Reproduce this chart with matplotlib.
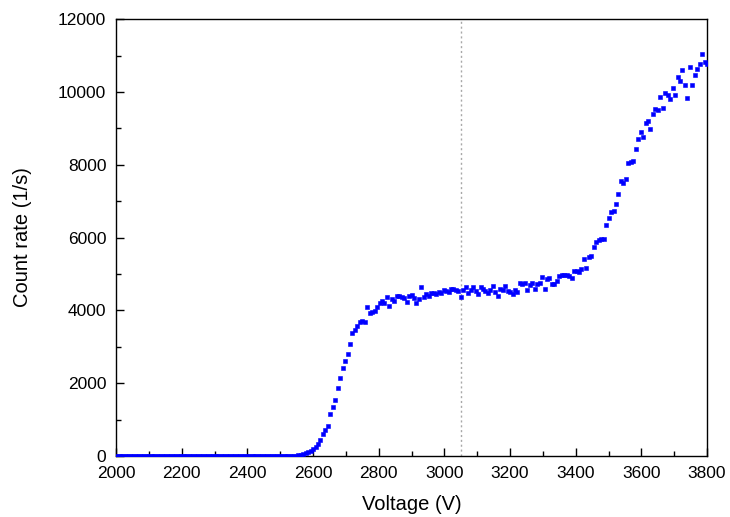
import numpy as np
import matplotlib
import matplotlib.pyplot as plt

matplotlib.use('Agg')

plt.rcParams['font.family'] = ['Liberation Sans', 'DejaVu Sans']

# voltage grid: 7.5 V steps from 2000 to 3800 V
voltage = np.arange(2000, 3800.01, 7.5)

# count rate (1/s), one row per 60 V
counts = [
    0, 0, 0, 0, 0, 0, 0, 0,                          # 2000
    0, 0, 0, 0, 0, 0, 0, 0,                          # 2060
    0, 0, 0, 0, 0, 0, 0, 0,                          # 2120
    0, 0, 0, 0, 0, 0, 0, 0,                          # 2180
    0, 0, 0, 0, 0, 0, 0, 0,                          # 2240
    0, 0, 0, 0, 0, 0, 0, 0,                          # 2300
    0, 0, 0, 0, 0, 0, 0, 0,                          # 2360
    0, 0, 0, 0, 0, 0, 0, 0,                          # 2420
    0, 0, 0, 0, 0, 0, 0, 0,                          # 2480
    0, 10, 20, 30, 50, 70, 100, 140,                 # 2540
    190, 260, 340, 430, 600, 720, 830, 1160,         # 2600
    1340, 1540, 1860, 2130, 2430, 2600, 2800, 3080,  # 2660
    3390, 3470, 3560, 3690, 3720, 3690, 4080, 3920,  # 2720
    3950, 3990, 4100, 4210, 4270, 4190, 4370, 4120,  # 2780
    4300, 4250, 4390, 4400, 4360, 4330, 4240, 4390,  # 2840
    4410, 4330, 4190, 4300, 4650, 4370, 4450, 4400,  # 2900
    4490, 4470, 4450, 4500, 4480, 4560, 4540, 4500,  # 2960
    4580, 4590, 4550, 4520, 4360, 4560, 4630, 4470,  # 3020
    4550, 4630, 4540, 4450, 4650, 4580, 4520, 4470,  # 3080
    4560, 4670, 4500, 4390, 4600, 4560, 4660, 4530,  # 3140
    4510, 4450, 4560, 4500, 4760, 4720, 4740, 4560,  # 3200
    4700, 4740, 4600, 4720, 4740, 4910, 4600, 4850,  # 3260
    4880, 4730, 4720, 4800, 4940, 4970, 4960, 4970,  # 3320
    4940, 4900, 5090, 5090, 5050, 5140, 5410, 5170,  # 3380
    5470, 5490, 5730, 5890, 5930, 5950, 5960, 6340,  # 3440
    6530, 6710, 6740, 6910, 7210, 7560, 7510, 7600,  # 3500
    8050, 8080, 8100, 8420, 8720, 8890, 8750, 9150,  # 3560
    9210, 8970, 9390, 9540, 9500, 9850, 9570, 9980,  # 3620
    9910, 9810, 10120, 9920, 10400, 10310, 10600, 10180,  # 3680
    9830, 10690, 10180, 10460, 10630, 10780, 11030, 10830,  # 3740
    10760,                                           # 3800
]

marker_voltage = 3050

fig = plt.figure(figsize=(7.3, 5.17), dpi=100)
ax = fig.add_axes([0.159, 0.118, 0.8096, 0.845])

ax.axvline(marker_voltage, color='#a8a8a8', linestyle=(0, (1.5, 2.0)), linewidth=1.0, zorder=1)
ax.plot(voltage, counts, linestyle='none', marker='s', markersize=3.4,
        color='#0000ff', markeredgewidth=0.4, zorder=3)

ax.set_xlim(2000, 3800)
ax.set_ylim(0, 12000)
ax.set_xticks(np.arange(2000, 3801, 200))
ax.set_xticks(np.arange(2100, 3800, 200), minor=True)
ax.set_yticks(np.arange(0, 12001, 2000))
ax.set_yticks(np.arange(1000, 12000, 2000), minor=True)

ax.tick_params(which='both', direction='in', top=False, right=False, labelsize=12.5)
ax.tick_params(axis='x', which='major', pad=7)
ax.tick_params(axis='y', which='major', pad=7)
ax.tick_params(which='major', length=6, width=1)
ax.tick_params(which='minor', length=3.5, width=1)
for s in ax.spines.values():
    s.set_linewidth(1.0)

ax.set_xlabel('Voltage (V)', fontsize=14.5, labelpad=10)
ax.set_ylabel('Count rate (1/s)', fontsize=14.5, labelpad=19)

fig.savefig('out.png', dpi=100)
